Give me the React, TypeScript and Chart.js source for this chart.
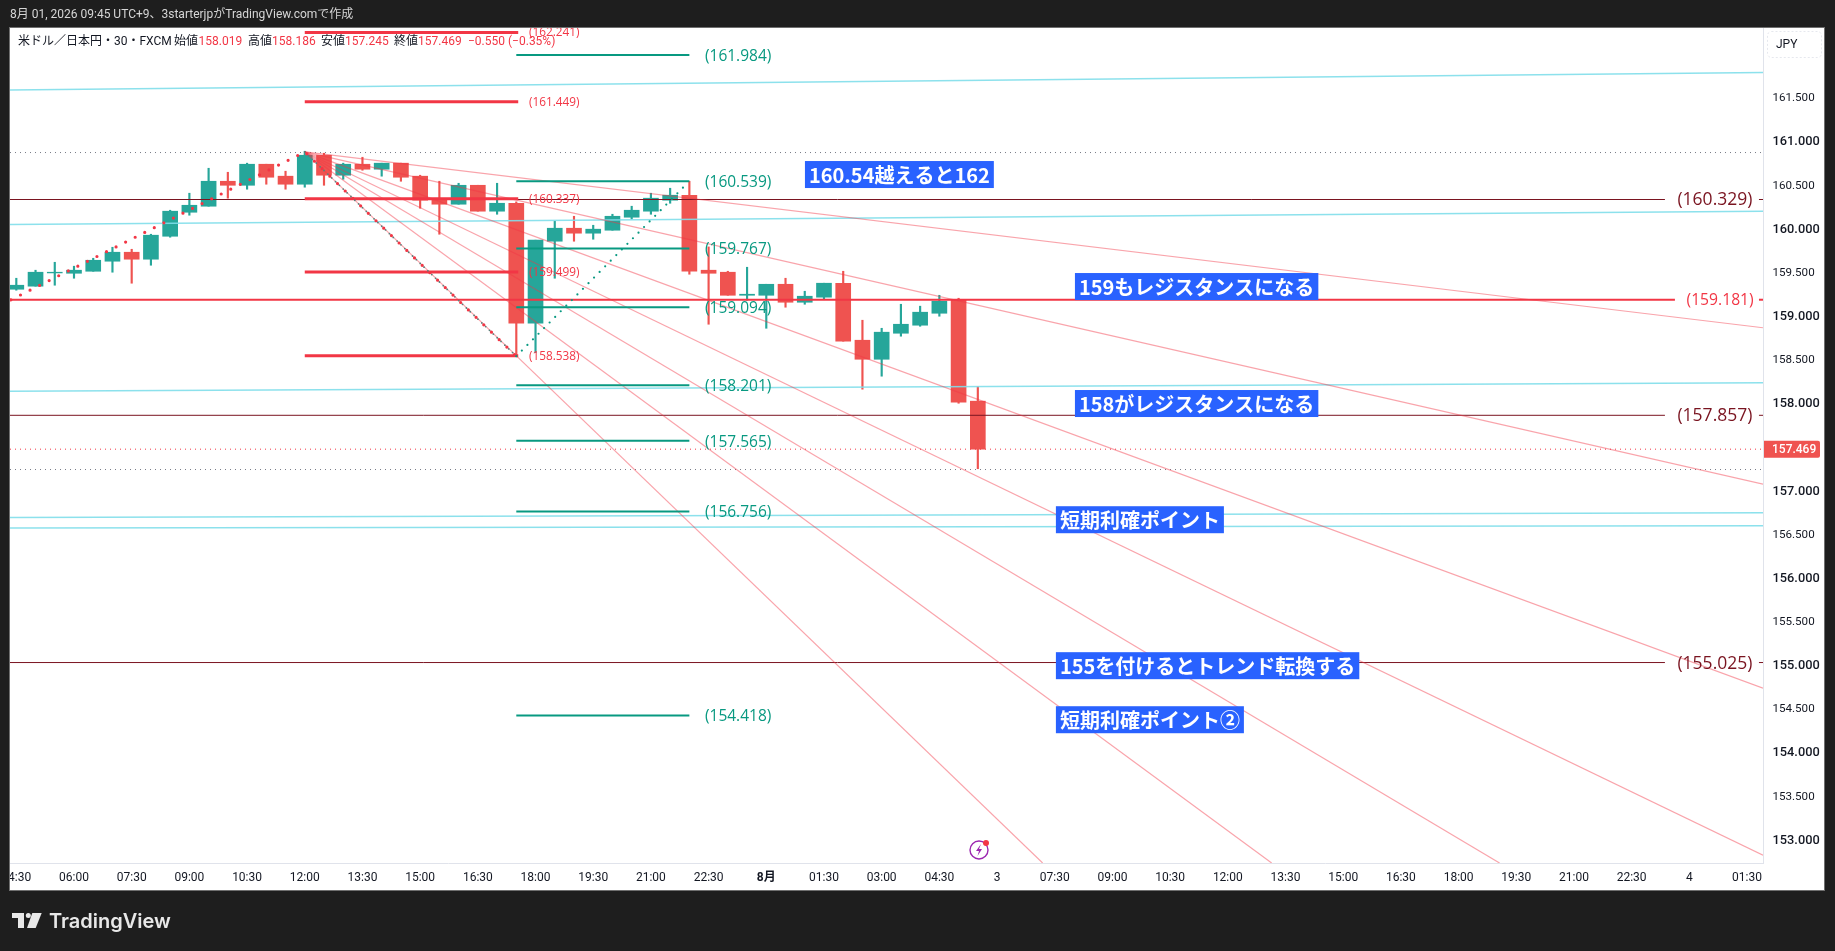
import React, { useEffect, useRef } from "react";
import { Chart, registerables } from "chart.js";

Chart.register(...registerables);

const opens = [159.301,159.336,159.488,159.484,159.507,159.622,159.725,159.645,159.908,160.183,160.252,160.538,160.492,160.733,160.596,160.504,160.836,160.607,160.733,160.676,160.745,160.596,160.340,160.275,160.492,160.195,160.286,158.912,159.851,160.000,159.943,159.977,160.126,160.195,160.321,160.378,159.519,159.496,159.232,159.232,159.358,159.152,159.210,159.370,158.717,158.499,158.797,158.889,159.026,159.175,158.019];
const highs = [159.427,159.519,159.610,159.565,159.656,159.782,159.759,159.931,160.206,160.401,160.687,160.641,160.745,160.733,160.653,160.882,160.859,160.745,160.813,160.745,160.745,160.607,160.538,160.515,160.492,160.515,160.302,159.863,160.080,160.137,160.034,160.160,160.252,160.401,160.458,160.538,159.786,159.507,159.553,159.358,159.427,159.278,159.370,159.507,158.946,158.854,159.129,159.107,159.232,159.198,158.186];
const lows = [159.290,159.336,159.347,159.427,159.507,159.496,159.370,159.576,159.897,160.149,160.252,160.344,160.447,160.504,160.447,160.470,160.492,160.561,160.664,160.596,160.538,160.229,159.931,160.275,160.195,160.160,158.545,158.576,159.427,159.851,159.874,159.977,160.103,160.160,160.286,159.473,158.900,159.232,159.175,158.854,159.095,159.129,159.187,158.706,158.156,158.305,158.763,158.877,158.992,157.995,157.245];
const closes = [159.347,159.496,159.496,159.519,159.633,159.725,159.645,159.920,160.195,160.263,160.538,160.492,160.733,160.584,160.504,160.836,160.607,160.733,160.676,160.745,160.584,160.321,160.275,160.492,160.195,160.286,158.912,159.863,160.000,159.943,159.989,160.137,160.206,160.344,160.378,159.507,159.484,159.232,159.244,159.358,159.152,159.221,159.370,158.706,158.499,158.809,158.900,159.038,159.164,158.007,157.469];

const timeTickIdx = [0,3,6,9,12,15,18,21,24,27,30,33,36,39,42,45,48,51,54,57,60,63,66,69,72,75,78,81,84,87,90];
const timeLabels = ["04:30","06:00","07:30","09:00","10:30","12:00","13:30","15:00","16:30","18:00","19:30","21:00","22:30","8月","01:30","03:00","04:30","3","07:30","09:00","10:30","12:00","13:30","15:00","16:30","18:00","19:30","21:00","22:30","4","01:30"];
const priceTicks = [153,153.5,154,154.5,155,155.5,156,156.5,157,157.5,158,158.5,159,159.5,160,160.5,161,161.5];

const xMin = -0.328;
const xMax = 90.83;
const yMin = 152.7288;
const yMax = 162.2935;

const darkLevels = [160.329, 157.857, 155.025];
const strongLevels = [159.181];
const redFibLevels = [162.241, 161.449, 160.337, 159.499, 158.538];
const greenFibLevels = [161.984, 160.539, 159.767, 159.094, 158.201, 157.565, 156.756, 154.418];
const cyanStart = [161.584, 160.042, 158.133, 156.686, 156.566];
const cyanEnd = [161.784, 160.195, 158.229, 156.740, 156.593];
const fanApex = { x: 15, y: 160.874 };
const fanEndIdx = [90.83, 90.83, 90.83, 90.83, 77.13, 65.28, 53.37];
const fanEndPrice = [158.860, 157.068, 154.731, 152.818, 152.7288, 152.7288, 152.7288];
const swingLow = { x: 26, y: 158.534 };
const swingHigh = { x: 34.88, y: 160.512 };
const dotStart = { x: -0.28, y: 159.18 };
const highPrice = 160.867;
const lowPrice = 157.236;
const lastPrice = 157.469;
const noteTexts = ["160.54越えると162","159もレジスタンスになる","158がレジスタンスになる","短期利確ポイント","155を付けるとトレンド転換する","短期利確ポイント②"];
const noteIdx = [41.01, 55.05, 55.05, 54.06, 54.06, 54.06];
const notePrices = [160.615, 159.332, 157.992, 156.661, 154.989, 154.37];

const RED = "#f23645";
const DARK = "#7a1420";
const GREEN = "#089981";
const UP = "#26a69a";
const DOWN = "#ef5350";
const INK = "#131722";
const CJK = '"Noto Sans CJK JP"';
const LATIN = 'Roboto, "Noto Sans CJK JP"';
const DRAW = '"Open Sans"';

function seg(points: any[], color: string, width: number, order: number, extra: any = {}) {
  return { type: "line", data: points, borderColor: color, borderWidth: width, pointRadius: 0, order, tension: 0, fill: false, ...extra };
}

// nudges the library's tick labels down so their digits sit on the level
function nudgeLabels(s: any, dy: number) {
  if (s.__nudged) return;
  s.__nudged = true;
  const orig = s._computeLabelItems;
  s._computeLabelItems = function (area: any) {
    const items = orig.call(this, area);
    items.forEach((it: any) => { it.options.translation[1] += dy; });
    return items;
  };
}

const framePlugin = {
  id: "frame",
  beforeDraw(chart: any) {
    const c = chart.ctx;
    c.save();
    c.fillStyle = "#1e1e1e";
    c.fillRect(0, 0, 1835, 951);
    c.fillStyle = "#ffffff";
    c.fillRect(10, 28, 1814, 862);
    c.restore();
  },
  afterDraw(chart: any) {
    const c = chart.ctx;
    const xs = chart.scales.x;
    const ys = chart.scales.y;
    const area = chart.chartArea;
    c.save();
    c.textBaseline = "middle";

    // level labels, clipped to the plot
    c.save();
    c.beginPath();
    c.rect(area.left, area.top, area.right - area.left, area.bottom - area.top);
    c.clip();
    c.textAlign = "left";
    c.font = `11.8px ${DRAW}`;
    c.fillStyle = RED;
    redFibLevels.forEach((v) => c.fillText(`(${v.toFixed(3)})`, xs.getPixelForValue(26.66), ys.getPixelForValue(v) + 0.5));
    c.font = `15.5px ${DRAW}`;
    c.fillStyle = GREEN;
    greenFibLevels.forEach((v) => c.fillText(`(${v.toFixed(3)})`, xs.getPixelForValue(35.81), ys.getPixelForValue(v) + 1.5));
    c.textAlign = "center";
    c.font = `17.5px ${DRAW}`;
    c.fillStyle = DARK;
    darkLevels.forEach((v) => c.fillText(`(${v.toFixed(3)})`, xs.getPixelForValue(88.33), ys.getPixelForValue(v) + 1));
    c.font = `15.7px ${DRAW}`;
    c.fillStyle = RED;
    strongLevels.forEach((v) => c.fillText(`(${v.toFixed(3)})`, xs.getPixelForValue(88.6), ys.getPixelForValue(v) + 1));

    // annotation boxes
    c.textAlign = "left";
    c.font = `bold 20px ${CJK}`;
    noteTexts.forEach((t, i) => {
      const x = xs.getPixelForValue(noteIdx[i]);
      const y = ys.getPixelForValue(notePrices[i]);
      const w = c.measureText(t).width + 8;
      c.fillStyle = "#2962ff";
      c.fillRect(x, y - 13.5, w, 27);
      c.fillStyle = "#ffffff";
      c.fillText(t, x + 4, y + 0.5);
    });

    // event icon
    const ix = 979, iy = 850;
    c.strokeStyle = "#9c27b0";
    c.lineWidth = 1.4;
    c.beginPath();
    c.arc(ix, iy, 9, 0, Math.PI * 2);
    c.stroke();
    c.beginPath();
    c.moveTo(ix + 2, iy - 6);
    c.lineTo(ix - 3, iy + 1);
    c.lineTo(ix, iy + 1);
    c.lineTo(ix - 1.5, iy + 6);
    c.lineTo(ix + 3, iy - 1);
    c.lineTo(ix, iy - 1);
    c.closePath();
    c.fillStyle = "#9c27b0";
    c.fill();
    c.beginPath();
    c.arc(ix + 7, iy - 7, 3, 0, Math.PI * 2);
    c.fillStyle = RED;
    c.fill();
    c.restore();

    // chart legend
    c.textAlign = "left";
    c.fillStyle = INK;
    c.font = `12px ${LATIN}`;
    c.fillText("米ドル／日本円・30・FXCM", 18, 42);
    const heads = ["始値", "高値", "安値", "終値"];
    const headX = [174, 248, 321, 394];
    const vals = [opens[50], highs[50], lows[50], closes[50]];
    const valX = [198.5, 272, 345, 418];
    heads.forEach((h, i) => {
      c.fillStyle = INK;
      c.fillText(h, headX[i], 42);
      c.fillStyle = RED;
      c.fillText(vals[i].toFixed(3), valX[i], 42);
    });
    c.fillText("−0.550", 468, 42);
    c.fillText("(−0.35%)", 508, 42);

    // price scale extras
    const ly = ys.getPixelForValue(lastPrice);
    c.fillStyle = DOWN;
    c.beginPath();
    c.roundRect(1764, ly - 8.5, 56, 17, [0, 2, 2, 0]);
    c.fill();
    c.fillStyle = "#ffffff";
    c.font = "500 12px Roboto";
    c.fillText(lastPrice.toFixed(3), 1772, ly + 1);
    c.strokeStyle = "#e6e8ee";
    c.setLineDash([2, 2]);
    c.lineWidth = 1;
    c.beginPath();
    c.roundRect(1767.5, 31.5, 54, 26, 4);
    c.stroke();
    c.setLineDash([]);
    c.fillStyle = INK;
    c.font = "12px Roboto";
    c.fillText("JPY", 1776, 45);

    // left edge of the frame hides the clipped first time label
    c.fillStyle = "#1e1e1e";
    c.fillRect(0, 28, 9.5, 862);
    c.strokeStyle = "#6f6f6f";
    c.lineWidth = 1;
    c.strokeRect(9.5, 27.5, 1815, 863);

    // header and footer
    c.fillStyle = "#d6d6d6";
    c.font = `12px ${LATIN}`;
    c.fillText("8月 01, 2026 09:45 UTC+9、3starterjpがTradingView.comで作成", 10, 15);
    c.fillStyle = "#e8e8e8";
    c.fillRect(12, 913, 12, 5);
    c.fillRect(18, 913, 6, 15);
    c.beginPath();
    c.arc(28.3, 915.5, 2.5, 0, Math.PI * 2);
    c.fill();
    c.beginPath();
    c.moveTo(32.3, 913);
    c.lineTo(41.7, 913);
    c.lineTo(35.7, 928);
    c.lineTo(27, 928);
    c.closePath();
    c.fill();
    c.font = "600 20px Inter";
    c.fillText("TradingView", 49, 922);
    c.restore();
  },
};

export default function App() {
  const ref = useRef<HTMLCanvasElement | null>(null);
  useEffect(() => {
    document.body.style.margin = "0";
    document.body.style.background = "#1e1e1e";
    const datasets: any[] = [];
    const wickData = opens.map((_, i) => ({ x: i, y: [lows[i], highs[i]] }));
    const bodyData = opens.map((_, i) => ({ x: i, y: [opens[i], closes[i]] }));
    const colors = opens.map((o, i) => (closes[i] >= o ? UP : DOWN));
    datasets.push({ type: "bar", data: wickData, backgroundColor: colors, barThickness: 1.5, grouped: false, order: 100 });
    datasets.push({ type: "bar", data: bodyData, backgroundColor: colors, barThickness: 15, grouped: false, order: 99 });

    cyanStart.forEach((v, i) => datasets.push(seg([{ x: xMin, y: v }, { x: xMax, y: cyanEnd[i] }], "rgba(128,222,234,0.9)", 1.5, 60)));
    darkLevels.forEach((v) => {
      datasets.push(seg([{ x: xMin, y: v }, { x: 85.73, y: v }], DARK, 1, 50));
      datasets.push(seg([{ x: 90.62, y: v }, { x: xMax, y: v }], DARK, 1, 50));
    });
    strongLevels.forEach((v) => {
      datasets.push(seg([{ x: xMin, y: v }, { x: 86.25, y: v }], RED, 2, 50));
      datasets.push(seg([{ x: 90.62, y: v }, { x: xMax, y: v }], RED, 2, 50));
    });
    datasets.push(seg([{ x: xMin, y: highPrice }, { x: xMax, y: highPrice }], "#787b86", 1, 55, { borderDash: [1, 4] }));
    datasets.push(seg([{ x: xMin, y: lowPrice }, { x: xMax, y: lowPrice }], "#787b86", 1, 55, { borderDash: [1, 4] }));
    datasets.push(seg([{ x: xMin, y: lastPrice }, { x: xMax, y: lastPrice }], RED, 1, 55, { borderDash: [1, 4] }));
    fanEndIdx.forEach((x, i) => datasets.push(seg([fanApex, { x, y: fanEndPrice[i] }], "rgba(242,54,69,0.45)", 1.2, 40)));
    redFibLevels.forEach((v) => datasets.push(seg([{ x: 15, y: v }, { x: 26.1, y: v }], RED, 3, 30)));
    greenFibLevels.forEach((v) => datasets.push(seg([{ x: 26, y: v }, { x: 35, y: v }], GREEN, 2, 30)));
    datasets.push(seg([dotStart, fanApex, swingLow], RED, 3.2, 20, { borderDash: [0, 10.7], borderCapStyle: "round" }));
    datasets.push(seg([fanApex, swingLow], "#5b7f7b", 1.8, 10, { borderDash: [0, 5.35], borderCapStyle: "round" }));
    datasets.push(seg([swingLow, swingHigh], GREEN, 2.2, 10, { borderDash: [0, 7.9], borderCapStyle: "round" }));

    const chart = new Chart(ref.current as HTMLCanvasElement, {
      type: "bar",
      data: { datasets },
      plugins: [framePlugin],
      options: {
        animation: false,
        responsive: false,
        devicePixelRatio: 1,
        layout: { padding: { left: 10, top: 28, right: 11, bottom: 61 } },
        plugins: { legend: { display: false }, tooltip: { enabled: false } },
        events: [],
        scales: {
          x: {
            type: "linear",
            offset: false,
            min: xMin,
            max: xMax,
            grid: { display: false, drawTicks: false, offset: false },
            border: { display: true, color: "#e0e3eb", width: 1 },
            afterBuildTicks(s: any) { s.ticks = timeTickIdx.map((v) => ({ value: v })); },
            afterFit(s: any) { s.height = 27; s.paddingLeft = 0; s.paddingRight = 0; nudgeLabels(s, 1); },
            ticks: {
              autoSkip: false,
              maxRotation: 0,
              minRotation: 0,
              padding: 7,
              color: INK,
              font: (ctx: any) => ({ family: LATIN, size: 12, weight: timeLabels[ctx.index] === "8月" ? "bold" : "normal" }),
              callback: (v: any) => timeLabels[timeTickIdx.indexOf(v)],
            },
          },
          y: {
            type: "linear",
            position: "right",
            min: yMin,
            max: yMax,
            grid: { display: false, drawTicks: false },
            border: { display: true, color: "#e0e3eb", width: 1 },
            afterBuildTicks(s: any) { s.ticks = priceTicks.map((v) => ({ value: v })); },
            afterFit(s: any) { s.width = 61; s.paddingTop = 0; s.paddingBottom = 0; nudgeLabels(s, 1.2); },
            ticks: {
              autoSkip: false,
              padding: 9.5,
              crossAlign: "near",
              color: INK,
              font: (ctx: any) => {
                const whole = Number.isInteger(priceTicks[ctx.index]);
                return { family: "Roboto", size: whole ? 12.8 : 11.6, weight: whole ? "500" : "normal" };
              },
              callback: (v: any) => Number(v).toFixed(3),
            },
          },
        },
      },
    } as any);
    return () => chart.destroy();
  }, []);
  return (
    <div style={{ position: "absolute", left: 0, top: 0, width: 1835, height: 951 }}>
      <canvas ref={ref} width={1835} height={951} style={{ display: "block", width: 1835, height: 951 }} />
    </div>
  );
}
